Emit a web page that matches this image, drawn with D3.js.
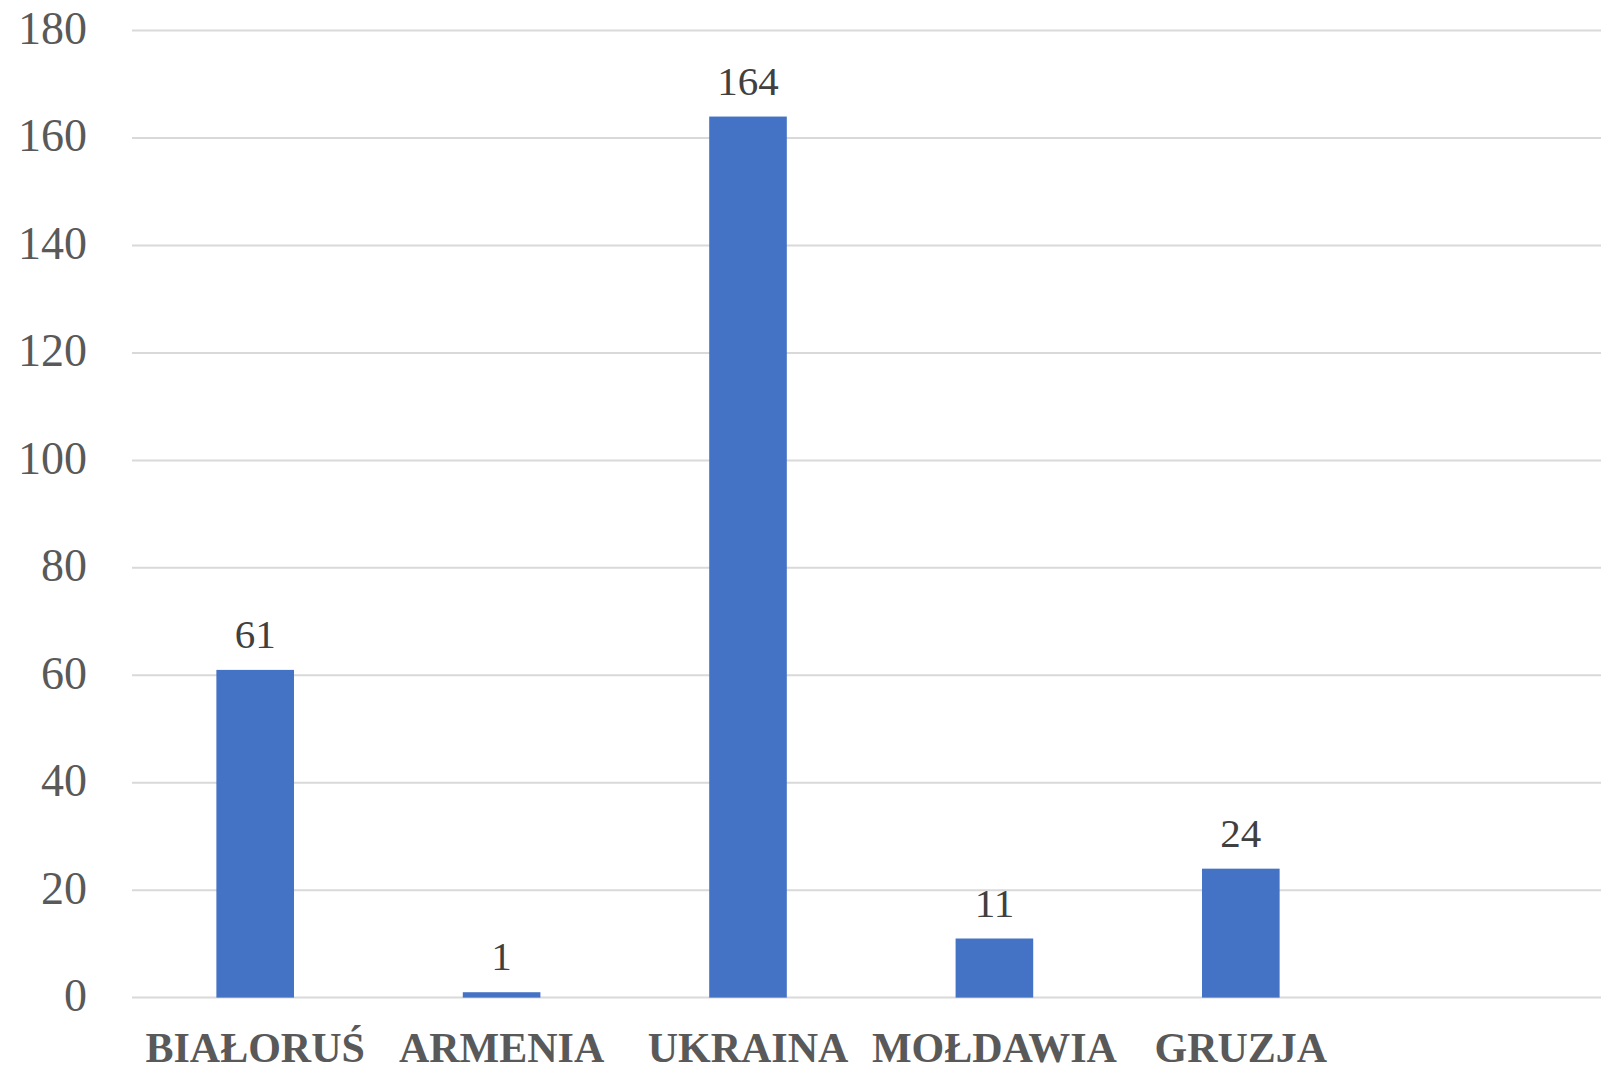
<!DOCTYPE html>
<html>
<head>
<meta charset="utf-8">
<script src="https://cdn.jsdelivr.net/npm/d3@7"></script>
<style>
  body { margin: 0; background: #fff; }
  svg text { font-family: "Palatino Linotype", "Book Antiqua", Palatino, "Liberation Serif", serif; }
</style>
</head>
<body>
<svg id="chart" width="1601" height="1071"></svg>
<script>
'use strict';

// data
const countries = ['BIAŁORUŚ', 'ARMENIA', 'UKRAINA', 'MOŁDAWIA', 'GRUZJA'];
const counts = [61, 1, 164, 11, 24];
const yTicks = [0, 20, 40, 60, 80, 100, 120, 140, 160, 180];

const W = 1601;
const plotLeft = 132, plotTop = 30.6, plotBottom = 997.6;

const svg = d3.select('#chart');

const x = d3.scaleBand()
    .domain(countries)
    .range([plotLeft, plotLeft + 5 * 246.4])
    .paddingInner(0.685)
    .paddingOuter(0.3425);

const y = d3.scaleLinear().domain([0, 180]).range([plotBottom, plotTop]);

// gridlines
svg.append('g')
    .selectAll('line')
    .data(yTicks)
    .enter().append('line')
      .attr('x1', plotLeft)
      .attr('x2', W)
      .attr('y1', d => y(d))
      .attr('y2', d => y(d))
      .attr('stroke', '#d9d9d9')
      .attr('stroke-width', 2);

// y axis labels
const yAxis = svg.append('g')
    .attr('transform', 'translate(87,0)')
    .call(d3.axisLeft(y).tickValues(yTicks).tickSize(0).tickPadding(0));
yAxis.select('.domain').remove();
yAxis.selectAll('text')
    .attr('fill', '#595959')
    .style('font-size', '46px')
    .attr('dy', '0.28em');

// bars
svg.append('g')
    .selectAll('rect')
    .data(countries)
    .enter().append('rect')
      .attr('x', d => x(d))
      .attr('width', x.bandwidth())
      .attr('y', (d, i) => y(counts[i]))
      .attr('height', (d, i) => y(0) - y(counts[i]))
      .attr('fill', '#4472c4');

// value labels
svg.append('g')
    .selectAll('text')
    .data(countries)
    .enter().append('text')
      .attr('x', d => x(d) + x.bandwidth() / 2)
      .attr('y', (d, i) => y(counts[i]) - 22)
      .attr('text-anchor', 'middle')
      .attr('fill', '#404040')
      .style('font-size', '41px')
      .text((d, i) => counts[i]);

// category labels
const xAxis = svg.append('g')
    .attr('transform', 'translate(0,' + plotBottom + ')')
    .call(d3.axisBottom(x).tickSize(0).tickPadding(0));
xAxis.select('.domain').remove();
xAxis.selectAll('text')
    .attr('y', 64)
    .attr('dy', 0)
    .attr('fill', '#595959')
    .style('font-size', '42px')
    .style('font-weight', 'bold');
</script>
</body>
</html>
